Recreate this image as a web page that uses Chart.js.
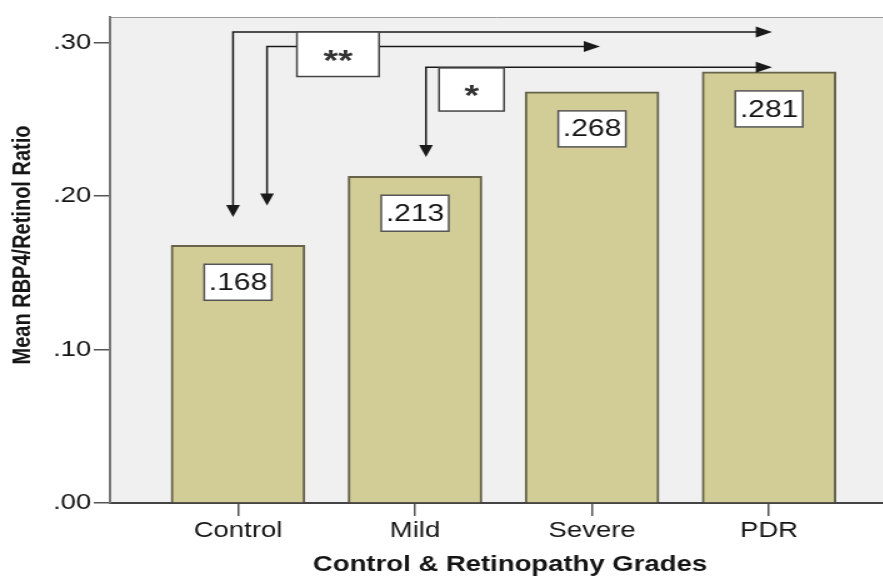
<!DOCTYPE html>
<html>
<head>
<meta charset="utf-8">
<script src="https://cdn.jsdelivr.net/npm/chart.js@4.4.1/dist/chart.umd.min.js"></script>
<style>
  html, body { margin: 0; padding: 0; background: #fff; overflow: hidden; }
  #wrap { width: 883px; height: 578px; overflow: hidden; }
  /* the original figure is stretched sideways, so stretch the canvas the same way */
  #chart { display: block; transform: scaleX(1.25); transform-origin: 0 0; }
</style>
</head>
<body>
<div id="wrap"><canvas id="chart" width="707" height="578"></canvas></div>
<script>
const categories = ["Control", "Mild", "Severe", "PDR"];
const meanRatio = [0.168, 0.213, 0.268, 0.281];
const yTicks = [0, 0.1, 0.2, 0.3];
const xTitle = "Control & Retinopathy Grades";
const yTitle = "Mean RBP4/Retinol Ratio";

// significance brackets in axis units (x: 1 = Control ... 4 = PDR)
const brackets = [
  { from: 0.972, to: 4.017, level: 0.307, drop: 0.1864 },
  { from: 1.164, to: 3.045, level: 0.2975, drop: 0.194 },
  { from: 2.062, to: 4.017, level: 0.284, drop: 0.2255 },
];
const sigLabels = [
  { text: "**", x0: 1.333, x1: 1.797, y0: 0.307, y1: 0.278 },
  { text: "*", x0: 2.136, x1: 2.503, y0: 0.2836, y1: 0.2555 },
];

const FONT = "'Liberation Sans', Arial, sans-serif";
const INK = "#151515";

const fmt = (v, d) => v.toFixed(d).replace(/^0/, "");

function arrowDown(ctx, x, y) {
  ctx.beginPath();
  ctx.moveTo(x, y);
  ctx.lineTo(x - 5.5, y - 12);
  ctx.lineTo(x + 5.5, y - 12);
  ctx.closePath();
  ctx.fill();
}

function arrowRight(ctx, x, y) {
  ctx.beginPath();
  ctx.moveTo(x, y);
  ctx.lineTo(x - 13, y - 5.5);
  ctx.lineTo(x - 13, y + 5.5);
  ctx.closePath();
  ctx.fill();
}

const decorations = {
  id: "decorations",
  beforeDraw(chart) {
    const { ctx, chartArea: a } = chart;
    ctx.save();
    ctx.fillStyle = "#f0f0f0";
    ctx.fillRect(a.left, a.top, a.right - a.left, a.bottom - a.top);
    ctx.strokeStyle = "#9a9a9a";
    ctx.lineWidth = 1;
    ctx.beginPath();
    ctx.moveTo(a.left, a.top + 0.5);
    ctx.lineTo(a.right, a.top + 0.5);
    ctx.stroke();
    ctx.restore();
  },
  afterDatasetsDraw(chart) {
    const { ctx } = chart;
    const { x, y } = chart.scales;
    ctx.save();

    // value boxes inside the bars
    ctx.font = `24px ${FONT}`;
    ctx.textAlign = "center";
    ctx.textBaseline = "middle";
    chart.getDatasetMeta(0).data.forEach((bar, i) => {
      const w = 54, h = 36, top = bar.y + 19;
      ctx.fillStyle = "#fff";
      ctx.fillRect(bar.x - w / 2, top, w, h);
      ctx.strokeStyle = "#555";
      ctx.lineWidth = 1.5;
      ctx.strokeRect(bar.x - w / 2, top, w, h);
      ctx.fillStyle = INK;
      ctx.fillText(fmt(meanRatio[i], 3), bar.x, top + h / 2 + 1);
    });

    // brackets with arrows
    ctx.strokeStyle = "#1a1a1a";
    ctx.fillStyle = "#1a1a1a";
    ctx.lineWidth = 1.5;
    brackets.forEach((b) => {
      const x0 = x.getPixelForValue(b.from);
      const x1 = x.getPixelForValue(b.to);
      const yl = y.getPixelForValue(b.level);
      const yd = y.getPixelForValue(b.drop);
      ctx.beginPath();
      ctx.moveTo(x0, yd - 10);
      ctx.lineTo(x0, yl);
      ctx.lineTo(x1 - 10, yl);
      ctx.stroke();
      arrowDown(ctx, x0, yd);
      arrowRight(ctx, x1, yl);
    });

    // significance boxes
    sigLabels.forEach((s) => {
      const left = x.getPixelForValue(s.x0);
      const right = x.getPixelForValue(s.x1);
      const top = y.getPixelForValue(s.y0);
      const bottom = y.getPixelForValue(s.y1);
      ctx.fillStyle = "#fff";
      ctx.fillRect(left, top, right - left, bottom - top);
      ctx.strokeStyle = "#444";
      ctx.lineWidth = 1.5;
      ctx.strokeRect(left, top, right - left, bottom - top);
      ctx.fillStyle = "#333";
      ctx.font = `bold 30px ${FONT}`;
      ctx.fillText(s.text, (left + right) / 2, (top + bottom) / 2 + 7);
    });
    ctx.restore();
  },
  afterDraw(chart) {
    const { ctx } = chart;
    ctx.save();
    ctx.fillStyle = INK;
    ctx.textAlign = "center";
    ctx.textBaseline = "middle";
    ctx.font = `bold 22px ${FONT}`;
    ctx.fillText(xTitle, 408, 565);
    ctx.translate(18.5, 245);
    ctx.rotate(-Math.PI / 2);
    ctx.font = `bold 20px ${FONT}`;
    ctx.fillText(yTitle, 0, 0);
    ctx.restore();
  },
};

new Chart(document.getElementById("chart"), {
  type: "bar",
  data: {
    datasets: [
      {
        data: categories.map((c, i) => ({ x: i + 1, y: meanRatio[i] })),
        backgroundColor: "#d2cd96",
        borderColor: "#66634a",
        borderWidth: 2,
        barThickness: 107,
      },
    ],
  },
  options: {
    responsive: false,
    animation: false,
    devicePixelRatio: 1,
    layout: { padding: { top: 17, left: 0, right: 0, bottom: 0 } },
    plugins: { legend: { display: false }, tooltip: { enabled: false } },
    scales: {
      x: {
        type: "linear",
        min: 0.277,
        max: 4.648,
        offset: false,
        afterBuildTicks: (s) => {
          s.ticks = categories.map((c, i) => ({ value: i + 1 }));
        },
        afterFit: (s) => {
          s.height = 75;
        },
        grid: { offset: false, drawOnChartArea: false, tickLength: 13, color: "#555", lineWidth: 1.5 },
        border: { color: "#444", width: 2 },
        ticks: {
          padding: 2,
          color: INK,
          autoSkip: false,
          maxRotation: 0,
          font: { family: FONT, size: 22 },
          callback: (v) => categories[v - 1],
        },
      },
      y: {
        min: 0,
        max: 0.3168,
        afterBuildTicks: (s) => {
          s.ticks = yTicks.map((v) => ({ value: v }));
        },
        afterFit: (s) => {
          s.width = 88;
        },
        grid: { drawOnChartArea: false, tickLength: 13, color: "#555", lineWidth: 1.5 },
        border: { color: "#777", width: 2 },
        ticks: {
          padding: 2,
          color: INK,
          font: { family: FONT, size: 22 },
          callback: (v) => fmt(v, 2),
        },
      },
    },
  },
  plugins: [decorations],
});
</script>
</body>
</html>
